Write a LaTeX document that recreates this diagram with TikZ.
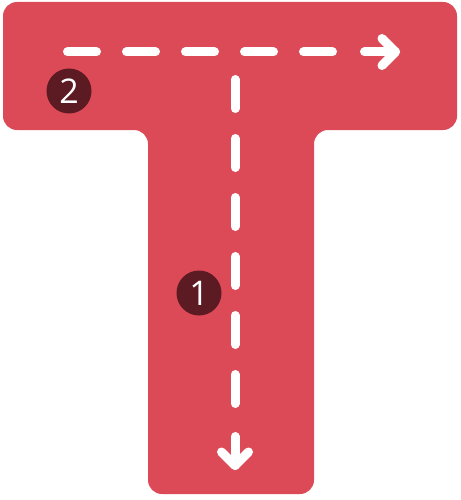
\documentclass[tikz,border=0pt]{standalone}
\usepackage{fontspec}
\setmainfont{Open Sans}
\definecolor{tred}{HTML}{DC4A57}
\definecolor{tdark}{HTML}{5C1A22}
\tikzset{
  path/.style={white, line width=9pt, line cap=round, line join=round},
  dashpath/.style={path, dash pattern=on 29pt off 30pt},
  badge/.style={circle, fill=tdark, minimum size=45pt, inner sep=0pt, text=white, font=\fontsize{34}{34}\selectfont},
}
\begin{document}
\begin{tikzpicture}[x=1pt,y=-1pt]
\useasboundingbox (0,0) rectangle (460,500);
\fill[tred, rounded corners=14pt] (3,2) -- (457,2) -- (457,130) -- (314,130) -- (314,494) -- (148,494) -- (148,130) -- (3,130) -- cycle;
% horizontal path (2)
\coordinate (h0) at (67.5,52);
\coordinate (h1) at (333,52);
\coordinate (ha) at (364.5,52);
\coordinate (ht) at (395.5,52);
\coordinate (hu) at (382,38.5);
\coordinate (hd) at (382,65.5);
\draw[dashpath] (h0) -- (h1);
\draw[path] (ha) -- (ht);
\draw[path] (hu) -- (ht) -- (hd);
% vertical path (1)
\coordinate (v0) at (235,79.5);
\coordinate (v1) at (235,404);
\coordinate (va) at (235,436.5);
\coordinate (vt) at (235,465.5);
\coordinate (vl) at (221.5,452);
\coordinate (vr) at (248.5,452);
\draw[dashpath] (v0) -- (v1);
\draw[path] (va) -- (vt);
\draw[path] (vl) -- (vt) -- (vr);
% badges
\node[badge] (b2) at (69,91) {2};
\node[badge] (b1) at (199,293) {1};
\end{tikzpicture}
\end{document}
